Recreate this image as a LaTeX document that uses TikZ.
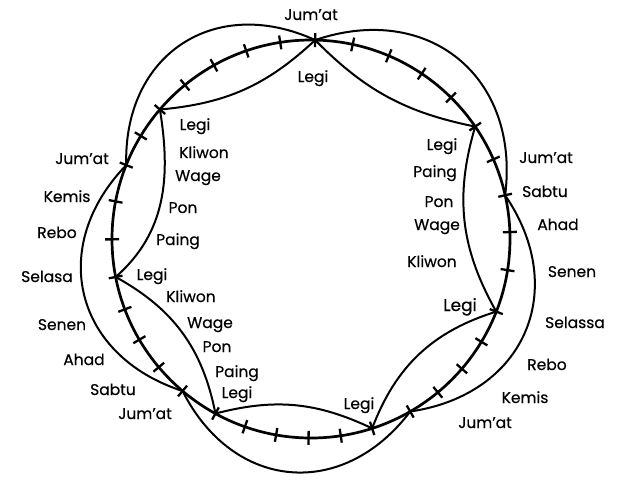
\documentclass[tikz,border=0pt]{standalone}
\usepackage{fontspec}
\setmainfont{Poppins}[FakeBold=0.4]
\usetikzlibrary{topaths}

\begin{document}
\begin{tikzpicture}[
  x=1pt, y=1pt,
  font=\fontsize{15.5}{18}\selectfont,
  wheel/.style={line width=2.7pt},
  notch/.style={line width=2.3pt},
  week/.style={line width=2pt, bend right=58, looseness=1.25},
  pasar/.style={line width=2pt},
  lbl/.style={anchor=base, inner sep=0pt},
  ]
  \useasboundingbox[fill=white] (-311,-244) rectangle (312,239);
  % the 35 days of the wuku wheel
  \draw[wheel] (0,0) circle (199);
  \foreach \a [count=\i from 0] in {88.8,98.9,109.0,119.2,129.3,139.4,148.8,158.2,
      169.1,180.1,191.0,200.7,210.4,220.1,229.8,241.3,250.6,259.9,269.3,278.6,
      287.9,299.9,309.6,319.3,328.9,338.6,351.0,362.0,372.7,383.6,394.4,405.3,
      416.2,427.0,437.9} {
    \coordinate (t\i) at (\a:199);
    \draw[notch] (\a:192) -- (\a:206);
  }
  % seven-day week: Jum'at to Jum'at
  \draw[week] (t0) to (t7);
  \draw[week] (t7) to (t14);
  \draw[week] (t14) to (t21);
  \draw[week] (t21) to (t28);
  \draw[week] (t28) to (t0);
  % five-day pasaran: Legi to Legi
  \draw[pasar] (t0) to[bend left=19] (t5);
  \draw[pasar] (t5) to[relative, out=24, in=146] (t10);
  \draw[pasar] (t10) to[bend left=25] (t15);
  \draw[pasar] (t15) to[bend left=20] (t20);
  \draw[pasar] (t20) to[bend left=26] (t25);
  \draw[pasar] (t25) to[bend left=23] (t30);
  \draw[pasar] (t30) to[bend left=17] (t0);
  % weekdays
  \node[lbl] (w1) at (0,219) {Jum'at};
  \node[lbl] (w2) at (-229,75) {Jum'at};
  \node[lbl] (w3) at (-244,37) {Kemis};
  \node[lbl] (w4) at (-254,1) {Rebo};
  \node[lbl] (w5) at (-264,-43) {Selasa};
  \node[lbl] (w6) at (-249,-91) {Senen};
  \node[lbl] (w7) at (-227,-126) {Ahad};
  \node[lbl] (w8) at (-198,-156) {Sabtu};
  \node[lbl] (w9) at (-166,-180) {Jum'at};
  \node[lbl] (w10) at (174,-189) {Jum'at};
  \node[lbl] (w11) at (214,-164) {Kemis};
  \node[lbl] (w12) at (236,-131) {Rebo};
  \node[lbl] (w13) at (264,-89) {Selassa};
  \node[lbl] (w14) at (261,-38) {Senen};
  \node[lbl] (w15) at (247,9) {Ahad};
  \node[lbl] (w16) at (234,42) {Sabtu};
  \node[lbl] (w17) at (235,76) {Jum'at};
  % pasaran days
  \node[lbl] (m1) at (2,157) {Legi};
  \node[lbl] (m2) at (-116,109) {Legi};
  \node[lbl] (m3) at (-107,81) {Kliwon};
  \node[lbl] (m4) at (-113,58) {Wage};
  \node[lbl] (m5) at (-128,26) {Pon};
  \node[lbl] (m6) at (-133,-6) {Paing};
  \node[lbl] (m7) at (-159,-41) {Legi};
  \node[lbl] (m8) at (-120,-63) {Kliwon};
  \node[lbl] (m9) at (-101,-89) {Wage};
  \node[lbl] (m10) at (-94,-113) {Pon};
  \node[lbl] (m11) at (-74,-138) {Paing};
  \node[lbl] (m12) at (-74,-159) {Legi};
  \node[lbl] (m13) at (48,-170) {Legi};
  \node[lbl, font=\fontsize{17}{20}\selectfont] (m14) at (149,-72) {Legi};
  \node[lbl] (m15) at (121,-28) {Kliwon};
  \node[lbl] (m16) at (126,9) {Wage};
  \node[lbl] (m17) at (128,32) {Pon};
  \node[lbl] (m18) at (124,62) {Paing};
  \node[lbl] (m19) at (131,89) {Legi};
\end{tikzpicture}
\end{document}
